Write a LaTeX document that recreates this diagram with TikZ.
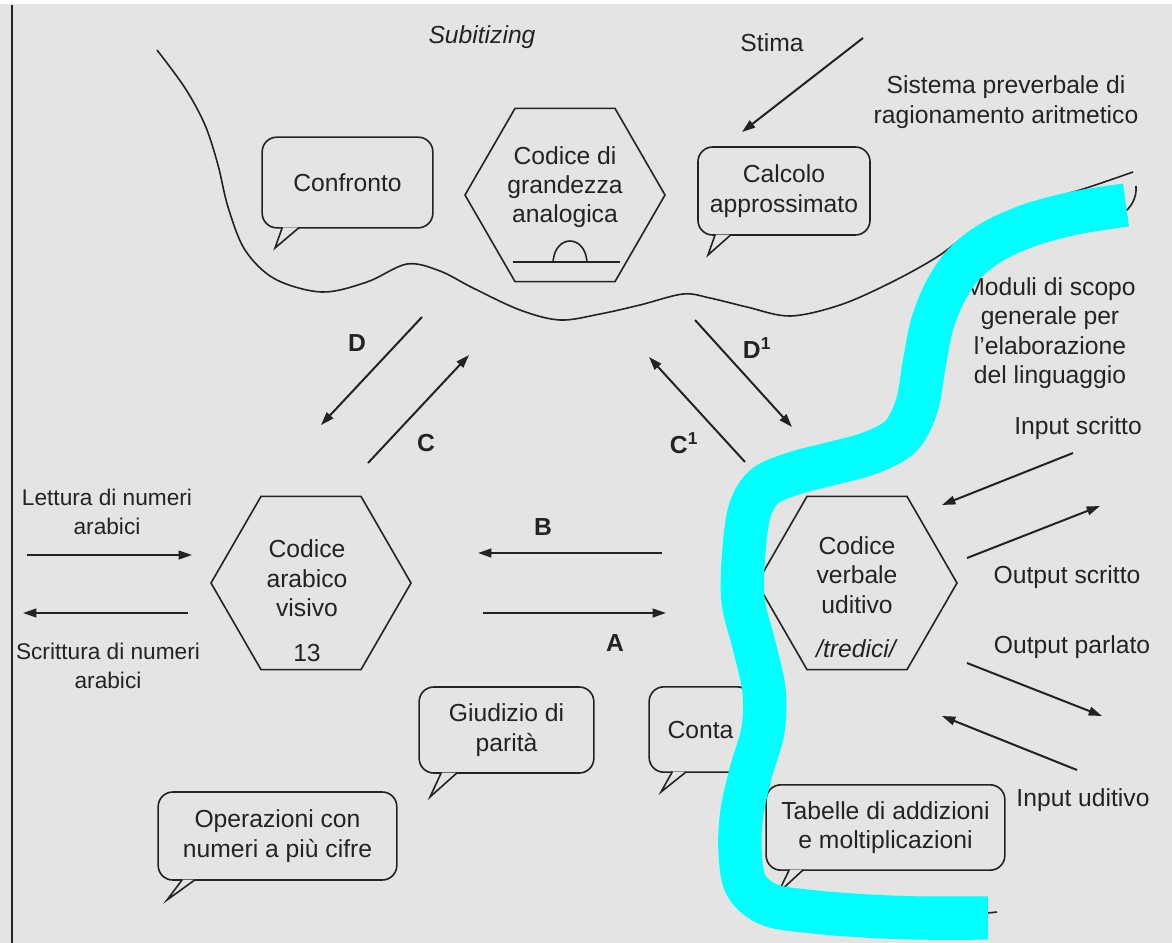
\documentclass[tikz,border=0pt]{standalone}
\usepackage{fontspec}
\setmainfont{Liberation Sans}
\usetikzlibrary{shapes.geometric,arrows.meta,calc}

\definecolor{paper}{RGB}{228,228,226}
\definecolor{ink}{RGB}{35,35,35}
\definecolor{marker}{RGB}{0,255,255}

\tikzset{
  lbl/.style={font=\fontsize{18.5}{22}\selectfont, text=ink, align=center, inner sep=0pt},
  sidelbl/.style={lbl, font=\fontsize{17}{22}\selectfont},
  letter/.style={font=\bfseries\fontsize{18.5}{22}\selectfont, text=ink, inner sep=0pt},
  hexa/.style={regular polygon, regular polygon sides=6, minimum size=150pt, inner sep=0pt, draw=ink, line width=1.2pt},
  bubble/.style={lbl, draw=ink, line width=1.2pt, rounded corners=11pt, fill=paper},
  arr/.style={draw=ink, line width=1.5pt, -{Triangle[length=10pt,width=6.5pt]}},
  wave/.style={draw=ink, line width=1.2pt},
  tail/.style={draw=ink, line width=1.2pt, line join=miter},
  marker stroke/.style={draw=marker, line width=32.5pt, line join=round},
}

% tail of a speech bubble: node, left and right offset of the base, tip
\newcommand{\bubtail}[4]{%
  \coordinate (#1-a) at ($(#1.south west)+(#2,-1.3)$);
  \coordinate (#1-b) at ($(#1.south west)+(#3,-1.3)$);
  \fill[paper] (#1-a) -- (#4) -- (#1-b) -- cycle;
  \draw[tail] (#1-a) -- (#4) -- (#1-b);
}

\begin{document}
\begin{tikzpicture}[x=0.75pt,y=0.75pt,yscale=-1]
\useasboundingbox (0,0) rectangle (1172,943);
\fill[paper] (0,0) rectangle (1172,943);
\fill[white] (0,0) rectangle (1172,4);
%Straight Lines (page edge)
\draw[ink, line width=2pt] (12,5) -- (12,943);

%Curve Lines (preverbal system)
\draw[wave] plot[smooth, tension=0.55] coordinates {(157,50) (185,88) (205,125) (218,165) (228,207) (245,250) (275,279) (322,292) (367,282) (407,264) (440,271) (473,288) (520,310) (560,320) (600,314) (640,305) (683,294) (710,298) (747,307) (790,316) (840,305) (890,283) (937,257) (975,229) (1020,207) (1080,190) (1133,172)};
\draw[wave] (1136,186) .. controls (1137,198) and (1131,208) .. (1122,214);
\draw[wave] (968,915) -- (997,912);

% Hexagons
\node[hexa] (analogico) at (565,195) {};
\node[lbl] (analogico-txt) at (565,187) {Codice di\\grandezza\\analogica};
\draw[wave] (513,262) -- (620,262);
\draw[wave] (553,262) .. controls (555,234) and (585,234) .. (587,262);

\node[hexa] (visivo) at (311,583) {};
\node[lbl] (visivo-txt) at (307,601) {Codice\\arabico\\visivo\\[12pt]13};

\node[hexa] (verbale) at (857,583) {};
\node[lbl] (verbale-txt) at (857,597) {Codice\\verbale\\uditivo\\[11pt]\textit{/tredici/}};

% Bubbles
\node[bubble, minimum width=128pt, minimum height=68pt] (confronto) at (347.5,182.5) {Confronto};
\node[bubble, minimum width=129pt, minimum height=66pt] (calcolo) at (784,191) {Calcolo\\approssimato};
\node[bubble, minimum width=131pt, minimum height=64.5pt] (parita) at (506.5,730) {Giudizio di\\parità};
\node[bubble, minimum width=77pt, minimum height=64pt] (conta) at (700.5,729.5) {Conta};
\node[bubble, minimum width=179pt, minimum height=66pt] (operazioni) at (277.5,836) {Operazioni con\\numeri a più cifre};
\node[bubble, minimum width=179pt, minimum height=64pt] (tabelle) at (885.5,827.5) {Tabelle di addizioni\\e moltiplicazioni};

\coordinate (confronto-tip) at (275,248);
\coordinate (calcolo-tip) at (708,255);
\coordinate (parita-tip) at (430,797);
\coordinate (conta-tip) at (661,792);
\coordinate (operazioni-tip) at (167,900);
\coordinate (tabelle-tip) at (778,893);
\bubtail{confronto}{21}{38}{confronto-tip}
\bubtail{calcolo}{18}{34}{calcolo-tip}
\bubtail{parita}{23}{39}{parita-tip}
\bubtail{conta}{24}{38}{conta-tip}
\bubtail{operazioni}{25}{38}{operazioni-tip}
\bubtail{tabelle}{24}{38}{tabelle-tip}

% Text Node
\node[lbl, font=\itshape\fontsize{18.5}{22}\selectfont] (subitizing) at (482,37) {Subitizing};
\node[lbl] (stima) at (772,43) {Stima};
\node[lbl] (sistema) at (1006,102) {Sistema preverbale di\\ragionamento aritmetico};
\node[lbl] (moduli) at (1050,333) {Moduli di scopo\\generale per\\l’elaborazione\\del linguaggio};
\node[lbl] (inscritto) at (1078,428) {Input scritto};
\node[lbl] (outscritto) at (1067,577) {Output scritto};
\node[lbl] (outparlato) at (1072,647) {Output parlato};
\node[lbl] (inuditivo) at (1083,800) {Input uditivo};
\node[sidelbl] (lettura) at (107,512) {Lettura di numeri\\arabici};
\node[sidelbl] (scrittura) at (108,666) {Scrittura di numeri\\arabici};

% Route letters
\node[letter] (lblD) at (357,343) {D};
\node[letter] (lblC) at (426,443) {C};
\node[letter] (lblCi) at (684,443) {C\textsuperscript{1}};
\node[letter] (lblDi) at (757,348) {D\textsuperscript{1}};
\node[letter] (lblB) at (543,527) {B};
\node[letter] (lblA) at (615,643) {A};

% Arrow ends
\coordinate (stima-a) at (863,38);   \coordinate (stima-b) at (742,132);
\coordinate (lett-a) at (27,555);    \coordinate (lett-b) at (192,555);
\coordinate (scri-a) at (188,613);   \coordinate (scri-b) at (23,613);
\coordinate (B-a) at (662,553);      \coordinate (B-b) at (478,553);
\coordinate (A-a) at (483,613);      \coordinate (A-b) at (666,613);
\coordinate (D-a) at (422,317);      \coordinate (D-b) at (321,425);
\coordinate (C-a) at (368,463);      \coordinate (C-b) at (469,355);
\coordinate (Ci-a) at (745,462);     \coordinate (Ci-b) at (649,357);
\coordinate (Di-a) at (695,320);     \coordinate (Di-b) at (792,427);
\coordinate (ins-a) at (1073,453);   \coordinate (ins-b) at (942,505);
\coordinate (outs-a) at (967,558);   \coordinate (outs-b) at (1100,506);
\coordinate (outp-a) at (967,663);   \coordinate (outp-b) at (1102,716);
\coordinate (inu-a) at (1077,770);   \coordinate (inu-b) at (942,716);

%Straight Lines (arrows)
\foreach \e in {stima,lett,scri,B,A,D,C,Ci,Di,ins,outs,outp,inu}
  \draw[arr] (\e-a) -- (\e-b);

%Curve Lines (marker stroke)
\draw[marker stroke] plot[smooth, tension=0.55] coordinates {(1126,205) (1075,213) (1030,225) (992,242) (964,264) (945,292) (932,325) (924,365) (917,405) (901,436) (870,453) (830,464) (795,473) (765,486) (750,510) (744,550) (743,600) (754,645) (764,690) (763,730) (751,772) (742,812) (740,850) (746,885) (770,905) (815,912) (867,916) (920,918) (988,918)};
\end{tikzpicture}
\end{document}
